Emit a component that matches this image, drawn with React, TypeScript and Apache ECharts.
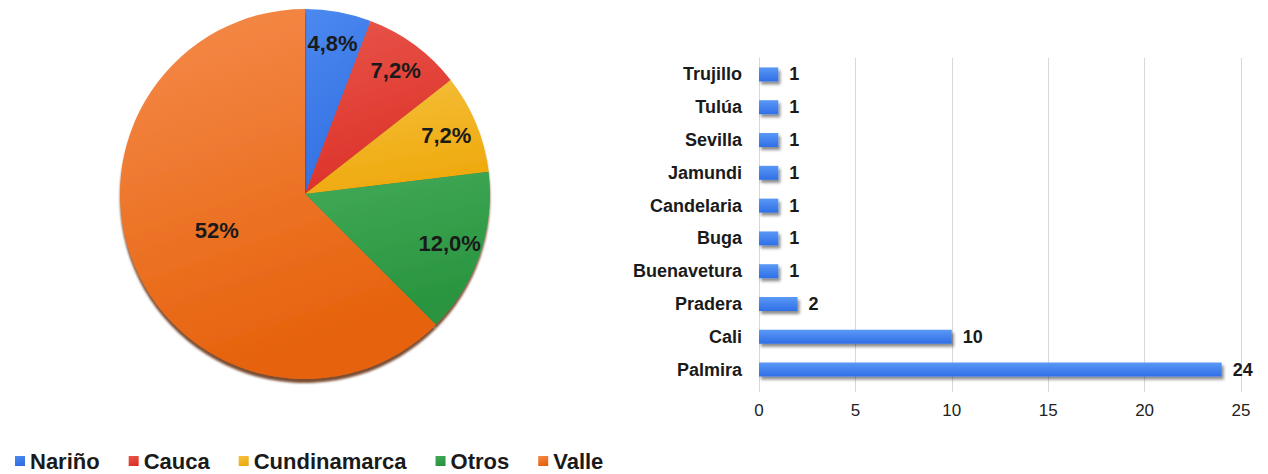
import React, { useEffect, useRef } from "react";
import * as echarts from "echarts";

const regions = ["Nariño", "Cauca", "Cundinamarca", "Otros", "Valle"];
const regionValues = [4.8, 7.2, 7.2, 12.0, 52];
const regionLabels = ["4,8%", "7,2%", "7,2%", "12,0%", "52%"];
const regionColors = [
  ["#4c89f0", "#3270e2"],
  ["#e8564b", "#dd3128"],
  ["#f5c03e", "#efaa0e"],
  ["#42aa58", "#29943f"],
  ["#f58b4c", "#e6620c"],
];

const cities = ["Palmira", "Cali", "Pradera", "Buenavetura", "Buga", "Candelaria", "Jamundi", "Sevilla", "Tulúa", "Trujillo"];
const cityValues = [24, 10, 2, 1, 1, 1, 1, 1, 1, 1];
const xTicks = [0, 5, 10, 15, 20, 25];

const FONT = "Liberation Sans, Arial, sans-serif";

function grad(c: string[]) {
  return new echarts.graphic.LinearGradient(0, 0, 0.3, 1, [
    { offset: 0, color: c[0] },
    { offset: 1, color: c[1] },
  ]);
}

export default function App() {
  const ref = useRef<HTMLDivElement>(null);
  useEffect(() => {
    if (!ref.current) return;
    const chart = echarts.init(ref.current, null, { renderer: "svg" });
    const mainData = regions.map((name, i) => ({
      name,
      value: regionValues[i],
      itemStyle: { color: grad(regionColors[i]) },
      label: { show: i === 4 },
    }));
    const overlayData = regions.map((name, i) => ({
      name,
      value: regionValues[i],
      label: { show: i !== 4 },
    }));
    const labelStyle = {
      position: "inside" as const,
      fontFamily: FONT,
      fontWeight: "bold" as const,
      fontSize: 22,
      color: "#1a1a1a",
      formatter: (p: any) => regionLabels[p.dataIndex],
    };
    chart.setOption({
      animation: false,
      textStyle: { fontFamily: FONT },
      legend: {
        data: regions,
        left: 10,
        top: 445,
        icon: "rect",
        itemWidth: 10,
        itemHeight: 10,
        itemGap: 29,
        textStyle: { fontFamily: FONT, fontWeight: "bold", fontSize: 22, lineHeight: 22, color: "#1a1a1a" },
      },
      grid: { left: 759, right: 27, top: 58, height: 328 },
      xAxis: {
        type: "value",
        min: 0,
        max: 25,
        interval: 5,
        axisLine: { show: false },
        axisTick: { show: true, length: 6, lineStyle: { color: "#d8d8d8" } },
        splitLine: { show: true, showMinLine: true, showMaxLine: true, lineStyle: { color: "#d8d8d8", width: 1 } },
        axisLabel: {
          margin: 16,
          fontFamily: FONT,
          fontSize: 17,
          color: "#222",
          formatter: (v: number) => (xTicks.includes(v) ? String(v) : ""),
        },
      },
      yAxis: {
        type: "category",
        data: cities,
        axisLine: { show: true, lineStyle: { color: "#d8d8d8" } },
        axisTick: { show: false },
        axisLabel: {
          margin: 17,
          fontFamily: FONT,
          fontWeight: "bold",
          fontSize: 18,
          color: "#1a1a1a",
        },
      },
      series: [
        {
          type: "pie",
          center: [305, 194],
          radius: [0, 185],
          startAngle: 90,
          clockwise: true,
          silent: true,
          labelLine: { show: false },
          label: labelStyle,
          itemStyle: {
            borderWidth: 0,
            shadowColor: "rgba(90,35,0,0.8)",
            shadowOffsetY: 4,
            shadowBlur: 2,
          },
          data: mainData,
        },
        {
          type: "pie",
          center: [305, 194],
          radius: [115, 185],
          startAngle: 90,
          clockwise: true,
          silent: true,
          labelLine: { show: false },
          label: labelStyle,
          itemStyle: { color: "rgba(0,0,0,0)", borderWidth: 0 },
          data: overlayData,
          z: 3,
        },
        {
          type: "bar",
          data: cityValues,
          barWidth: 14,
          itemStyle: {
            color: new echarts.graphic.LinearGradient(0, 0, 0, 1, [
              { offset: 0, color: "#5a98f6" },
              { offset: 1, color: "#2f6fe6" },
            ]),
            shadowColor: "rgba(0,0,0,0.45)",
            shadowOffsetX: 2,
            shadowOffsetY: 3,
            shadowBlur: 3,
          },
          label: {
            show: true,
            position: "right",
            distance: 11,
            fontFamily: FONT,
            fontWeight: "bold",
            fontSize: 18,
            color: "#1a1a1a",
          },
        },
      ],
    });
    return () => chart.dispose();
  }, []);
  return (
    <div
      ref={ref}
      style={{ position: "fixed", left: 0, top: 0, width: 1268, height: 474, background: "#fff" }}
    />
  );
}
